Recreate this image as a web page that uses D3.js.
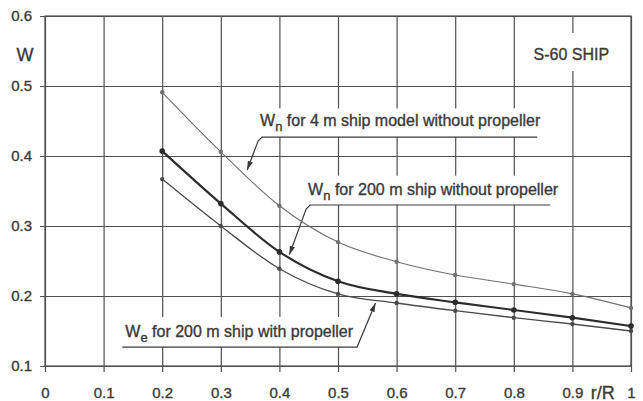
<!DOCTYPE html>
<html>
<head>
<meta charset="utf-8">
<script src="https://cdn.jsdelivr.net/npm/d3@7"></script>
<style>
  html, body { margin: 0; padding: 0; background: #fff; }
  svg text { font-family: "Liberation Sans Narrow", "Arial Narrow", "Liberation Sans", Arial, sans-serif; fill: #3a3a3a; stroke: #3a3a3a; stroke-width: 0.35px; }
</style>
</head>
<body>
<svg id="chart" width="643" height="401"></svg>
<script>
// Relative radius r/R at which the wake fraction was measured
const rR = [0.2, 0.3, 0.4, 0.5, 0.6, 0.7, 0.8, 0.9, 1.0];

// Nominal wake, 4 m ship model without propeller
const wnModel = [0.491, 0.406, 0.329, 0.277, 0.249, 0.230, 0.217, 0.203, 0.183];
// Nominal wake, 200 m ship without propeller
const wnShip = [0.407, 0.332, 0.263, 0.221, 0.203, 0.191, 0.180, 0.169, 0.157];
// Effective wake, 200 m ship with propeller
const weShip = [0.367, 0.300, 0.239, 0.203, 0.190, 0.179, 0.169, 0.160, 0.150];

const xTicks = [0, 0.1, 0.2, 0.3, 0.4, 0.5, 0.6, 0.7, 0.8, 0.9, 1];
const yTicks = [0.1, 0.2, 0.3, 0.4, 0.5, 0.6];

const svg = d3.select("#chart");

const plotL = 45, plotR = 631, plotT = 16, plotB = 366;
const x = d3.scaleLinear().domain([0, 1]).range([plotL, plotR]);
const y = d3.scaleLinear().domain([0.1, 0.6]).range([plotB, plotT]);

const gridColor = "#505050";

// Horizontal grid + y tick labels (axis anchored on the right edge so the ticks span the plot)
const yAxis = svg.append("g")
  .attr("transform", `translate(${plotR},0)`)
  .call(d3.axisLeft(y).tickValues(yTicks).tickFormat(d3.format(".1f"))
    .tickSizeInner(plotR - plotL + 5).tickSizeOuter(0).tickPadding(8));
yAxis.select(".domain").remove();
yAxis.selectAll(".tick line").attr("stroke", gridColor).attr("stroke-width", 1.2);
yAxis.selectAll(".tick text").attr("font-size", 15).attr("fill", "#3a3a3a");

// Vertical grid + x tick labels
const xAxis = svg.append("g")
  .attr("transform", `translate(0,${plotT})`)
  .call(d3.axisBottom(x).tickValues(xTicks).tickFormat(d => d === 0 ? "0" : d === 1 ? "1" : d3.format(".1f")(d))
    .tickSizeInner(plotB - plotT + 6).tickSizeOuter(0).tickPadding(15));
xAxis.select(".domain").remove();
xAxis.selectAll(".tick line").attr("stroke", gridColor).attr("stroke-width", 1.2);
xAxis.selectAll(".tick text").attr("font-size", 15).attr("fill", "#3a3a3a");

// Plot frame
svg.append("rect")
  .attr("x", plotL).attr("y", plotT)
  .attr("width", plotR - plotL).attr("height", plotB - plotT)
  .attr("fill", "none").attr("stroke", gridColor).attr("stroke-width", 1.2);

// Axis titles
svg.append("text").attr("x", 25).attr("y", 61).attr("text-anchor", "middle")
  .attr("font-size", 18).text("W");
svg.append("text").attr("x", x(0.95) + 1).attr("y", 398.5).attr("text-anchor", "middle")
  .attr("font-size", 18).text("r/R");

// Annotation labels: white backing, text, underline and leader arrow
svg.append("defs").append("marker")
  .attr("id", "arrow").attr("viewBox", "0 0 10 10")
  .attr("refX", 10).attr("refY", 5)
  .attr("markerWidth", 9).attr("markerHeight", 9)
  .attr("markerUnits", "userSpaceOnUse")
  .attr("orient", "auto")
  .append("path").attr("d", "M0,2 L10,5 L0,8 Z").attr("fill", "#3a3a3a");

const notes = [
  { main: "W", sub: "n", rest: " for 4 m ship model without propeller",
    x0: 0.367, x1: 0.84, base: 0.443, line: 0.427, boxTop: 0.468, tip: [0.345, 0.38] },
  { main: "W", sub: "n", rest: " for 200 m ship without propeller",
    x0: 0.449, x1: 0.8625, base: 0.344, line: 0.330, boxTop: 0.372, tip: [0.417, 0.259] },
  { main: "W", sub: "e", rest: " for 200 m ship with propeller",
    x0: 0.137, x1: 0.524, base: 0.141, line: 0.127, boxTop: 0.170, tip: [0.564, 0.19] }
];

function drawNote(n, i) {
  const g = svg.append("g");
  g.append("rect")
    .attr("x", x(n.x0) - 4).attr("y", y(n.boxTop))
    .attr("width", x(n.x1) - x(n.x0) + 4).attr("height", y(n.line) - y(n.boxTop))
    .attr("fill", "#fff");
  const t = g.append("text").attr("x", x(n.x0)).attr("y", y(n.base)).attr("font-size", 16);
  t.append("tspan").text(n.main);
  t.append("tspan").attr("font-size", 13).attr("dy", 5).text(n.sub);
  t.append("tspan").attr("dy", -5).text(n.rest);

  const lx0 = x(n.x0), lx1 = x(n.x1), ly = y(n.line);
  const tx = x(n.tip[0]), ty = y(n.tip[1]);
  let pts;
  if (i < 2) {
    // underline runs right-to-left, then kinks down toward the curve
    pts = [[lx1, ly], [lx0 + 2, ly], [lx0 - 2, ly + 4], [tx, ty]];
  } else {
    // underline runs left-to-right, then climbs up to the curve
    pts = [[lx0 - 3, ly], [lx1 + 5, ly], [tx, ty]];
  }
  g.append("path")
    .attr("d", d3.line()(pts))
    .attr("fill", "none").attr("stroke", "#3a3a3a").attr("stroke-width", 1.2)
    .attr("marker-end", "url(#arrow)");
}

// S-60 SHIP tag
svg.append("rect").attr("x", x(0.84)).attr("y", 33).attr("width", x(0.97) - x(0.84)).attr("height", 38).attr("fill", "#fff");
svg.append("text").attr("x", x(0.9) - 1).attr("y", 60).attr("text-anchor", "middle")
  .attr("font-size", 16).text("S-60 SHIP");

notes.forEach(drawNote);

// Wake distribution curves
const series = [
  { values: wnModel, stroke: "#707070", width: 1.1, r: 2.2 },
  { values: weShip, stroke: "#4a4a4a", width: 1.3, r: 2.2 },
  { values: wnShip, stroke: "#2c2c2c", width: 2.2, r: 2.8 }
];

const line = d3.line()
  .x((d, i) => x(rR[i]))
  .y(d => y(d))
  .curve(d3.curveMonotoneX);

series.forEach(s => {
  svg.append("path")
    .attr("d", line(s.values))
    .attr("fill", "none").attr("stroke", s.stroke).attr("stroke-width", s.width);
  svg.append("g").selectAll("circle")
    .data(s.values)
    .join("circle")
    .attr("cx", (d, i) => x(rR[i]))
    .attr("cy", d => y(d))
    .attr("r", s.r)
    .attr("fill", s.stroke);
});
</script>
</body>
</html>
